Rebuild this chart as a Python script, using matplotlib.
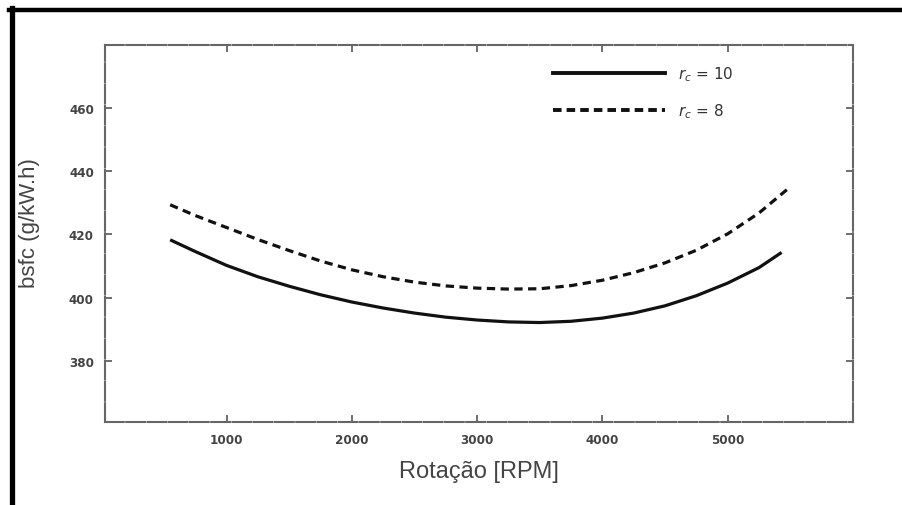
import matplotlib
matplotlib.use("Agg")
import matplotlib.pyplot as plt
from matplotlib.lines import Line2D

# engine speed [RPM] and brake specific fuel consumption [g/kW.h]
rpm_rc10 = [550, 750, 1000, 1250, 1500, 1750, 2000, 2250, 2500, 2750, 3000,
            3250, 3500, 3750, 4000, 4250, 4500, 4750, 5000, 5250, 5430]
bsfc_rc10 = [418.3, 414.6, 410.2, 406.6, 403.6, 400.9, 398.6, 396.7, 395.1, 393.8, 392.9,
             392.3, 392.1, 392.5, 393.5, 395.1, 397.4, 400.6, 404.6, 409.5, 414.3]

rpm_rc8 = [550, 750, 1000, 1250, 1500, 1750, 2000, 2250, 2500, 2750, 3000,
           3250, 3500, 3750, 4000, 4250, 4500, 4750, 5000, 5250, 5500]
bsfc_rc8 = [429.4, 426.0, 422.2, 418.4, 414.9, 411.6, 408.8, 406.6, 404.9, 403.7, 403.0,
            402.7, 402.8, 403.8, 405.5, 407.9, 411.0, 415.0, 420.2, 426.8, 435.1]

x_ticks = [1000, 2000, 3000, 4000, 5000]
y_ticks = [380, 400, 420, 440, 460]

labels = ["$r_c$ = 10", "$r_c$ = 8"]

plt.rcParams['font.family'] = ['DejaVu Sans']

fig = plt.figure(figsize=(9.02, 5.06), dpi=100)
ax = fig.add_axes([105 / 902, 1 - 423 / 506, 748 / 902, 377 / 506])

ax.plot(rpm_rc10, bsfc_rc10, color='#111111', lw=2.3, solid_capstyle='butt')
ax.plot(rpm_rc8, bsfc_rc8, color='#111111', lw=2.3, linestyle=(0, (2.6, 1.7)))

ax.set_xlim(30, 6000)
ax.set_ylim(360.6, 480)
ax.set_xticks(x_ticks)
ax.set_yticks(y_ticks)

ax.tick_params(direction='in', length=5, width=1.2, color='#555555',
               top=True, right=True, labelsize=9.5, labelcolor='#444444', pad=8)
for lab in ax.get_xticklabels() + ax.get_yticklabels():
    lab.set_fontweight('bold')
    lab.set_fontstretch('condensed')

for sp in ax.spines.values():
    sp.set_color('#666666')
    sp.set_linewidth(1.5)
    sp.set_linestyle((0, (9, 1.2)))

ax.set_xlabel("Rotação [RPM]", fontsize=17, color='#444444',
              family=['Liberation Sans', 'DejaVu Sans'], labelpad=10)
ax.set_ylabel("bsfc (g/kW.h)", fontsize=16, color='#444444',
              family=['Liberation Sans', 'DejaVu Sans'], labelpad=14)
ax.yaxis.set_label_coords(-0.087, 0.53)

handles = [Line2D([], [], color='#111111', lw=2.8),
           Line2D([], [], color='#111111', lw=2.8, linestyle=(0, (2.2, 1.3)))]
ax.legend(handles, labels, loc='upper left', bbox_to_anchor=(0.599, 0.95),
          frameon=False, fontsize=11, handlelength=7.3, handletextpad=0.9,
          labelspacing=1.25, borderpad=0, borderaxespad=0,
          labelcolor='#333333')

# outer black frame (top and left edges)
fig.add_artist(Line2D([9 / 902, 1.0], [1 - 11 / 506, 1 - 11 / 506],
                      transform=fig.transFigure, color='black', lw=3.2))
fig.add_artist(Line2D([11.5 / 902, 11.5 / 902], [0.0, 1 - 9 / 506],
                      transform=fig.transFigure, color='black', lw=3.8))

fig.savefig("out.png", dpi=100)
